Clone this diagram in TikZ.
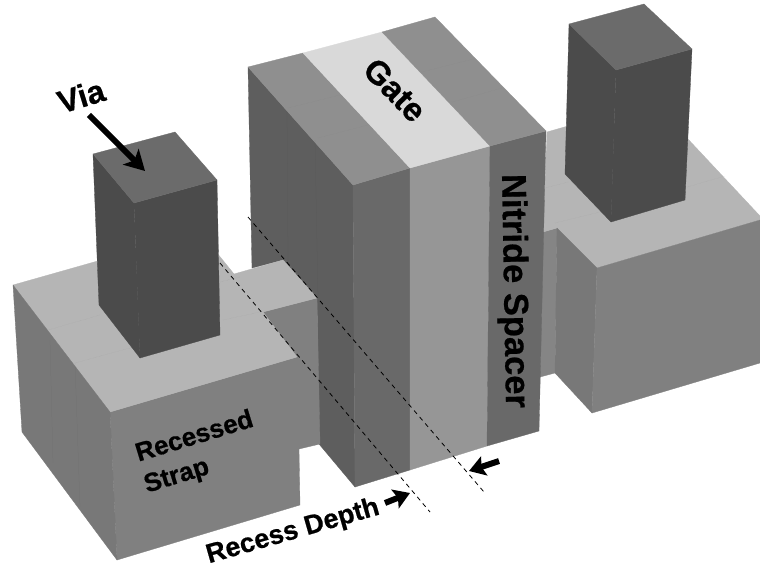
\documentclass[tikz,border=0pt]{standalone}
\usepackage{fontspec}
\setmainfont[BoldFeatures={FakeBold=0.6}]{Liberation Sans}
\usetikzlibrary{arrows.meta}
\definecolor{topstrap}{gray}{0.71}
\definecolor{frontstrap}{gray}{0.50}
\definecolor{leftstrap}{gray}{0.47}
\definecolor{narrowstrap}{gray}{0.52}
\definecolor{viatop}{gray}{0.42}
\definecolor{viaside}{gray}{0.295}
\definecolor{spacertop}{gray}{0.56}
\definecolor{gatetop}{gray}{0.85}
\definecolor{gateleft}{gray}{0.37}
\definecolor{spacerfront}{gray}{0.41}
\definecolor{gatefront}{gray}{0.59}
\tikzset{
  facet/.style={fill=#1,draw=#1,line width=0.3pt,line join=round},
  seam/.style={draw=black!55,line width=0.25pt,opacity=0.35,densely dotted},
  vseam/.style={draw=black,line width=0.25pt,opacity=0.06},
  guide/.style={draw=black,line width=0.8pt,dash pattern=on 4.5pt off 4pt},
  bigarrow/.style={draw=black,line width=6pt,-{Stealth[length=20pt,width=22pt,inset=5pt]}},
  smallarrow/.style={draw=black,line width=6pt,-{Stealth[length=16pt,width=20pt,inset=3pt]}},
  lab/.style={font=\bfseries\fontsize{#1}{#1}\selectfont,text=black,inner sep=0pt}
}
\begin{document}
\begin{tikzpicture}[x=1pt,y=-1pt]
\useasboundingbox (0,0) rectangle (760,569);
\fill[white] (0,0) rectangle (760,569);
% right block
\path[facet=narrowstrap] (543,232) -- (557,228) -- (555,373) -- (540,377) -- cycle;
\path[facet=topstrap] (547,132) -- (575,124) -- (687,138) -- (760,216) -- (760,220) -- (597,268) -- (557,228) -- (543,232) -- cycle;
\path[facet=leftstrap] (557,228) -- (597,268) -- (592,413) -- (555,373) -- cycle;
\path[facet=frontstrap] (597,268) -- (760,220) -- (760,363) -- (592,413) -- cycle;
\draw[seam] (545,188) -- (568,182);
\draw[seam] (555,223) -- (600,212);
\draw[seam] (687,187) -- (725,176);
% right via
\path[facet=viaside] (569,24) -- (616,70) -- (611,222) -- (565,174) -- cycle;
\path[facet=viaside] (616,70) -- (692,49) -- (685,200) -- (611,222) -- cycle;
\path[facet=viatop] (569,24) -- (644,4) -- (692,49) -- (616,70) -- cycle;
% gate block
\path[facet=gateleft] (248,67) -- (353,185) -- (355,487) -- (319,444) -- (317,298) -- (283,260) -- (252,268) -- cycle;
\path[facet=spacerfront] (353,185) -- (410,168) -- (410,470) -- (355,487) -- cycle;
\path[facet=gatefront] (410,168) -- (490,146) -- (487,446) -- (410,470) -- cycle;
\path[facet=spacerfront] (490,146) -- (546,131) -- (539,431) -- (487,446) -- cycle;
\path[facet=spacertop] (248,67) -- (303,53) -- (410,168) -- (353,185) -- cycle;
\path[facet=gatetop] (303,53) -- (382,32) -- (490,146) -- (410,168) -- cycle;
\path[facet=spacertop] (382,32) -- (435,17) -- (546,131) -- (490,146) -- cycle;
\draw[seam] (288,108) -- (340,95);
\draw[seam] (318,138) -- (368,125);
\draw[seam] (422,72) -- (473,59);
\draw[seam] (452,102) -- (502,88);
\draw[vseam] (287,110) -- (289,400);
\draw[vseam] (315,140) -- (318,298);
% left block
\path[facet=frontstrap] (110,412) -- (297,357) -- (263,312) -- (317,298) -- (320,444) -- (299,449) -- (300,505) -- (117,560) -- cycle;
\path[facet=topstrap] (13,285) -- (200,232) -- (234,274) -- (283,260) -- (317,298) -- (263,312) -- (297,357) -- (110,412) -- cycle;
\path[facet=leftstrap] (13,285) -- (110,412) -- (117,560) -- (22,432) -- cycle;
\draw[seam] (48,330) -- (100,315);
\draw[seam] (75,363) -- (130,348);
\draw[seam] (220,282) -- (240,277);
\draw[seam] (223,320) -- (260,312);
\draw[vseam] (50,340) -- (53,463);
\draw[vseam] (75,363) -- (80,507);
% left via
\path[facet=viaside] (93,154) -- (134,203) -- (140,358) -- (99,305) -- cycle;
\path[facet=viaside] (134,203) -- (217,180) -- (220,335) -- (140,358) -- cycle;
\path[facet=viatop] (93,154) -- (175,132) -- (217,180) -- (134,203) -- cycle;
% guides
\coordinate (g1a) at (220,263); \coordinate (g1b) at (430,512);
\coordinate (g2a) at (248,217); \coordinate (g2b) at (484,492);
\draw[guide] (g1a) -- (g1b);
\draw[guide] (g2a) -- (g2b);
% arrows
\coordinate (va) at (89,115); \coordinate (vb) at (145,171);
\draw[bigarrow] (va) -- (vb);
\coordinate (ra) at (385,503); \coordinate (rb) at (410,493);
\draw[smallarrow] (ra) -- (rb);
\coordinate (sa) at (499,461); \coordinate (sb) at (469,471);
\draw[smallarrow] (sa) -- (sb);
% labels
\node[lab=32,rotate=17] (via) at (81,96) {Via};
\node[lab=33,rotate=-46] (gate) at (395,90) {Gate};
\node[lab=34.5,rotate=-89] (spacer) at (513,291) {Nitride Spacer};
\node[lab=26,rotate=17] (recessed) at (194,435) {Recessed};
\node[lab=26,rotate=17] (strap) at (177,477) {Strap};
\node[lab=27,rotate=16] (depth) at (293,532) {Recess Depth};
\end{tikzpicture}
\end{document}
